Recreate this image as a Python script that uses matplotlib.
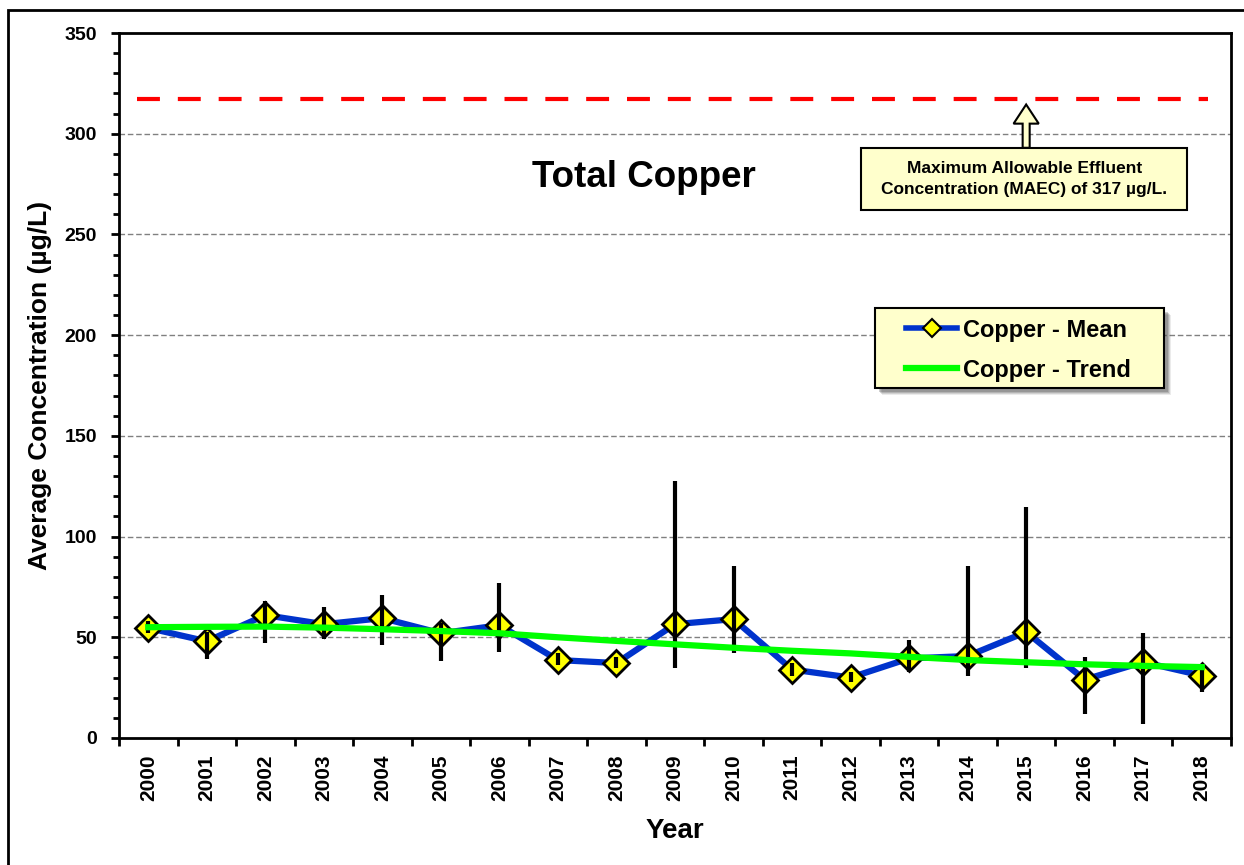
import matplotlib.pyplot as plt
from matplotlib.patches import Rectangle, FancyArrow
from matplotlib.ticker import MultipleLocator

plt.rcParams['font.family'] = ['Liberation Sans', 'DejaVu Sans']
plt.rcParams['font.weight'] = 'bold'

# yearly data
years = [str(y) for y in range(2000, 2019)]
copper_mean = [54.6, 48.0, 61.0, 56.5, 59.5, 52.0, 56.0, 38.7, 37.2, 56.5,
               59.0, 34.0, 30.0, 39.5, 40.7, 52.6, 29.0, 37.7, 31.0]
err_low = [52, 39, 47, 49, 46, 38, 42.7, 36, 35, 35,
           42, 31, 28, 33, 30.8, 35, 12, 7, 23]
err_high = [58, 52.6, 68, 65, 71, 57, 77, 42, 40, 127.6,
            85.4, 37, 33, 48.7, 85.4, 114.7, 40, 52, 35]
copper_trend = [55.0, 55.2, 55.3, 54.8, 54.0, 53.1, 52.0, 50.0, 48.2, 46.5,
                44.8, 43.3, 42.0, 40.3, 38.7, 37.6, 36.6, 35.8, 35.2]
maec = 317

x = list(range(len(years)))

fig = plt.figure(figsize=(12.44, 8.65), dpi=100)
ax = fig.add_axes([119/1244, 1 - 738/865, (1231-119)/1244, (738-33)/865])

# outer frame of the chart area
fig.patches.append(Rectangle((8/1244, -0.1), 1.2, 1 - 10/865 + 0.1,
                             transform=fig.transFigure, fill=False,
                             edgecolor='black', lw=2, zorder=0))

ax.set_xlim(-0.5, len(years) - 0.5)
ax.set_ylim(0, 350)

# grid
for g in range(50, 350, 50):
    ax.axhline(g, color='#808080', lw=1, ls=(0, (4, 2)), zorder=1)

# MAEC limit line
ax.plot([-0.2, 18.1], [maec, maec], color='red', lw=3, ls=(0, (5.5, 4.3)), zorder=2)

# mean line with markers
ax.plot(x, copper_mean, color='#0033CC', lw=4.5, zorder=3)
ax.plot(x, copper_mean, ls='none', marker='D', markersize=13.5,
        markerfacecolor='#FFFF00', markeredgecolor='black', markeredgewidth=2, zorder=4)
# min/max bars
ax.vlines(x, err_low, err_high, color='black', lw=3, zorder=5)
# trend
ax.plot(x, copper_trend, color='#00FF00', lw=4.5, zorder=6)

# legend box drawn by hand (with soft shadow)
lx0, lx1, ly0, ly1 = 12.41, 17.35, 173.8, 213.5
for k, a in [(7, 0.10), (6, 0.15), (5, 0.2), (4, 0.25)]:
    ax.add_patch(Rectangle((lx0 + k * 0.017, ly0 - k * 0.5), lx1 - lx0, ly1 - ly0,
                           facecolor='#404040', edgecolor='none', alpha=a, zorder=7))
ax.add_patch(Rectangle((lx0, ly0), lx1 - lx0, ly1 - ly0, facecolor='#FFFFCC',
                       edgecolor='black', lw=1.5, zorder=8))

lm, = ax.plot([], [], color='#0033CC', lw=4, marker='D', markersize=9,
              markerfacecolor='#FFFF00', markeredgecolor='black', markeredgewidth=1.5)
lt, = ax.plot([], [], color='#00FF00', lw=4.5)
leg = ax.legend([lm, lt], ['Copper - Mean', 'Copper - Trend'],
                loc='center left', bbox_to_anchor=(0.708, 0.55),
                prop={'size': 17, 'weight': 'bold'}, frameon=False,
                handlelength=2.15, handletextpad=0.25, labelspacing=0.72,
                borderpad=0, borderaxespad=0)
leg.set_zorder(9)

# title inside plot
ax.text(8.47, 278.5, 'Total Copper', fontsize=26.5, fontweight='bold',
        ha='center', va='center')

# annotation box with block arrow
ax.add_patch(FancyArrow(15.0, 293, 0, 314.5 - 293, width=0.12, head_width=0.43,
                        head_length=9.5, length_includes_head=True,
                        facecolor='#FFFFCC', edgecolor='black', lw=1.5, zorder=7))
ax.add_patch(Rectangle((12.18, 262), 17.75 - 12.18, 293 - 262,
                       facecolor='#FFFFCC', edgecolor='black', lw=1.5, zorder=8))
ax.text(14.97, 277.5, 'Maximum Allowable Effluent\nConcentration (MAEC) of 317 µg/L.',
        fontsize=12.5, fontweight='bold', ha='center', va='center',
        linespacing=1.45, zorder=9)

# axes styling
for s in ax.spines.values():
    s.set_linewidth(2)
ax.yaxis.set_major_locator(MultipleLocator(50))
ax.yaxis.set_minor_locator(MultipleLocator(10))
ax.set_xticks([i - 0.5 for i in range(len(years) + 1)], minor=False)
ax.set_xticklabels([])
ax.set_xticks(x, minor=True)
ax.set_xticklabels(years, minor=True, rotation=90, fontsize=15, fontweight='bold')
ax.tick_params(axis='x', which='major', direction='out', length=6, width=2)
ax.tick_params(axis='x', which='minor', length=0, pad=12)
ax.tick_params(axis='y', which='major', direction='out', length=6, width=2,
               labelsize=14, pad=10)
ax.tick_params(axis='y', which='minor', direction='out', length=4, width=2)
for lab in ax.get_yticklabels():
    lab.set_fontweight('bold')

ax.set_xlabel('Year', fontsize=20, fontweight='bold', labelpad=12)
ax.set_ylabel('Average Concentration (µg/L)', fontsize=19, fontweight='bold', labelpad=9)

fig.savefig('out.png', dpi=100)
